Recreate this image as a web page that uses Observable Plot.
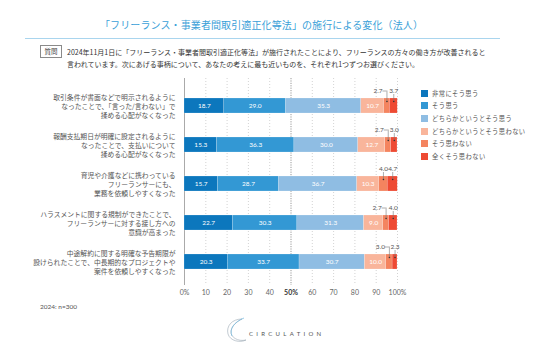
<!DOCTYPE html>
<html><head><meta charset="utf-8">
<script src="https://cdn.jsdelivr.net/npm/d3@7"></script>
<script src="https://cdn.jsdelivr.net/npm/@observablehq/plot@0.6"></script>
<style>
html,body{margin:0;padding:0;background:#fff;}
#page{position:relative;width:536px;height:361px;overflow:hidden;font-family:"Noto Sans CJK JP","Noto Sans",sans-serif;color:#444;}
#title{position:absolute;left:100px;top:17px;font-size:10px;color:#3a9fd8;letter-spacing:0.5px;line-height:16px;white-space:nowrap;}
#hr{position:absolute;left:25px;width:475px;top:38px;height:1px;background:#a9d5ee;}
#qbox{position:absolute;left:40px;top:45px;width:20px;height:11px;border:1px solid #8a8a8a;font-size:6.5px;line-height:11px;text-align:center;color:#444;}
#qtext{position:absolute;left:67px;top:46px;font-size:7px;line-height:12px;white-space:nowrap;color:#333;}
#chart{position:absolute;left:0;top:0;}
#legend{position:absolute;left:421px;top:87px;font-size:6.3px;color:#555;letter-spacing:0.4px;}
#legend .it{display:flex;align-items:center;height:12.6px;}
#legend .sw{width:7px;height:7px;margin-right:4px;}
#note{position:absolute;left:40px;top:303px;font-family:Lato,"Noto Sans",sans-serif;font-size:6.5px;color:#555;}
#logo{position:absolute;left:224px;top:316px;}
</style>
</head><body>
<div id="page">
  <div id="title">「フリーランス・事業者間取引適正化等法」の施行による変化（法人）</div>
  <div id="hr"></div>
  <div id="qbox">質問</div>
  <div id="qtext">2024年11月1日に「フリーランス・事業者間取引適正化等法」が施行されたことにより、フリーランスの方々の働き方が改善されると<br>言われています。次にあげる事柄について、あなたの考えに最も近いものを、それぞれ1つずつお選びください。</div>
  <div id="chart"></div>
  <div id="legend"></div>
  <div id="note">2024: n=300</div>
  <svg id="logo" width="100" height="30" viewBox="0 0 100 30">
    <path d="M18 3 C 8 3, 2 10, 4 18 C 6 25, 16 27, 22 24 C 14 26, 6 21, 7 15 C 8 9, 14 5, 18 3 Z" fill="none" stroke="#9aa8b4" stroke-width="0.6"/>
    <path d="M20 2 C 10 6, 5 13, 8 20" fill="none" stroke="#6fb7e0" stroke-width="0.7"/>
    <text x="25" y="20" font-family="Lato, 'Noto Sans', sans-serif" font-size="6" letter-spacing="3.3" fill="#555">CIRCULATION</text>
  </svg>
</div>
<script>
const questions = [
  "取引条件が書面などで明示されるように\nなったことで、「言った/言わない」で\n揉める心配がなくなった",
  "報酬支払期日が明確に設定されるように\nなったことで、支払いについて\n揉める心配がなくなった",
  "育児や介護などに携わっている\nフリーランサーにも、\n業務を依頼しやすくなった",
  "ハラスメントに関する規制ができたことで、\nフリーランサーに対する接し方への\n意識が高まった",
  "中途解約に関する明確な予告期限が\n設けられたことで、中長期的なプロジェクトや\n案件を依頼しやすくなった"
];
const categories = ["非常にそう思う","そう思う","どちらかというとそう思う","どちらかというとそう思わない","そう思わない","全くそう思わない"];
const colors = ["#0c77bd","#3398d4","#8fbde3","#f9b59b","#f4845f","#ee4a33"];
const veryAgree        = [18.7, 15.3, 15.7, 22.7, 20.3];
const agree            = [29.0, 36.3, 28.7, 30.3, 33.7];
const somewhatAgree    = [35.3, 30.0, 36.7, 31.3, 30.7];
const somewhatDisagree = [10.7, 12.7, 10.3,  9.0, 10.0];
const disagree         = [ 2.7,  2.7,  4.0,  2.7,  3.0];
const stronglyDisagree = [ 3.7,  3.0,  4.7,  4.0,  2.3];
const tickValues = [0,10,20,30,40,50,60,70,80,90,100];
const tickLabels = ["0%","10","20","30","40","50%","60","70","80","90","100%"];

const series = [veryAgree, agree, somewhatAgree, somewhatDisagree, disagree, stronglyDisagree];
const rows = [];
questions.forEach((q, i) => {
  let c = 0;
  series.forEach((s, j) => {
    const v = s[i];
    rows.push({q, cat: categories[j], j, v, x1: c, x2: c + v, mid: c + v / 2});
    c += v;
  });
});
const inside = rows.filter(d => d.v >= 5);
const small = rows.filter(d => d.v < 5);
small.forEach(d => {
  const next = rows.find(e => e.q === d.q && e.j === d.j + 1);
  d.shift = d.j === 4 && next && (next.mid - d.mid) < 4;
});
const shifted = small.filter(d => d.shift);
const direct = small.filter(d => !d.shift);
const fmt = v => v.toFixed(1);

const numFont = "Lato, 'Noto Sans', sans-serif";
const chart = Plot.plot({
  width: 536,
  height: 361,
  marginTop: 78,
  marginBottom: 76,
  marginLeft: 184,
  marginRight: 139,
  style: {fontFamily: "'Noto Sans CJK JP', sans-serif", background: "transparent", overflow: "visible"},
  x: {domain: [0, 100]},
  y: {domain: questions, paddingInner: 0.62, paddingOuter: 0.43, align: 0.56, label: null},
  color: {domain: categories, range: colors},
  marks: [
    Plot.ruleX(tickValues.filter(t => t !== 0 && t !== 50), {x: d => d, stroke: "#c8c8c8", strokeWidth: 0.8, strokeDasharray: "1,2"}),
    Plot.ruleX([50], {x: d => d, stroke: "#999", strokeWidth: 1, strokeDasharray: "1.2,1.2"}),
    Plot.ruleX([0], {x: d => d, stroke: "#aaa", strokeWidth: 1}),
    Plot.barX(rows, {x1: "x1", x2: "x2", y: "q", fill: "cat", stroke: "#fff", strokeWidth: 0.3, strokeOpacity: 0.6}),
    Plot.text(inside, {x: "mid", y: "q", text: d => fmt(d.v), fill: "#fff", fontSize: 6.5, fontFamily: numFont}),
    Plot.tickX(direct, {x: "mid", y: "q", insetTop: -4, insetBottom: 12, stroke: "#777", strokeWidth: 0.6}),
    Plot.tickX(shifted, {x: "mid", y: "q", insetTop: -7.5, insetBottom: 12, stroke: "#777", strokeWidth: 0.6}),
    Plot.ruleY(shifted, {x1: "mid", x2: "mid", y: "q", dy: -15, insetLeft: -4, stroke: "#777", strokeWidth: 0.6}),
    Plot.dot(small, {x: "mid", y: "q", r: 0.8, fill: "#333", dy: -4.5}),
    Plot.text(direct, {x: "mid", y: "q", text: d => fmt(d.v), dy: -15, fill: "#555", fontSize: 6.5, fontFamily: numFont}),
    Plot.text(shifted, {x: "mid", y: "q", text: d => fmt(d.v), dy: -15, dx: -9, fill: "#555", fontSize: 6.5, fontFamily: numFont}),
    Plot.axisY({tickSize: 0, tickPadding: 9, fontSize: 6.8, lineHeight: 1.3, fill: "#555", label: null}),
    Plot.axisX(tickValues.filter(t => t !== 50), {tickSize: 0, tickPadding: 5, fontSize: 7, fill: "#666", fontFamily: numFont, label: null,
      tickFormat: t => tickLabels[tickValues.indexOf(t)]}),
    Plot.axisX([50], {tickSize: 0, tickPadding: 5, fontSize: 7, fill: "#333", fontWeight: "bold", fontFamily: numFont, label: null,
      tickFormat: t => tickLabels[tickValues.indexOf(t)]})
  ]
});
document.getElementById("chart").appendChild(chart);

// fit the title to the reference width (x 100 to 423)
const title = document.getElementById("title");
const n = [...title.textContent].length;
const w0 = title.getBoundingClientRect().width;
const base = w0 - n * 0.5;
title.style.letterSpacing = ((323 - base) / n) + "px";

const legend = document.getElementById("legend");
categories.forEach((c, i) => {
  const it = document.createElement("div");
  it.className = "it";
  it.innerHTML = `<span class="sw" style="background:${colors[i]}"></span><span>${c}</span>`;
  legend.appendChild(it);
});
</script>
</body></html>
